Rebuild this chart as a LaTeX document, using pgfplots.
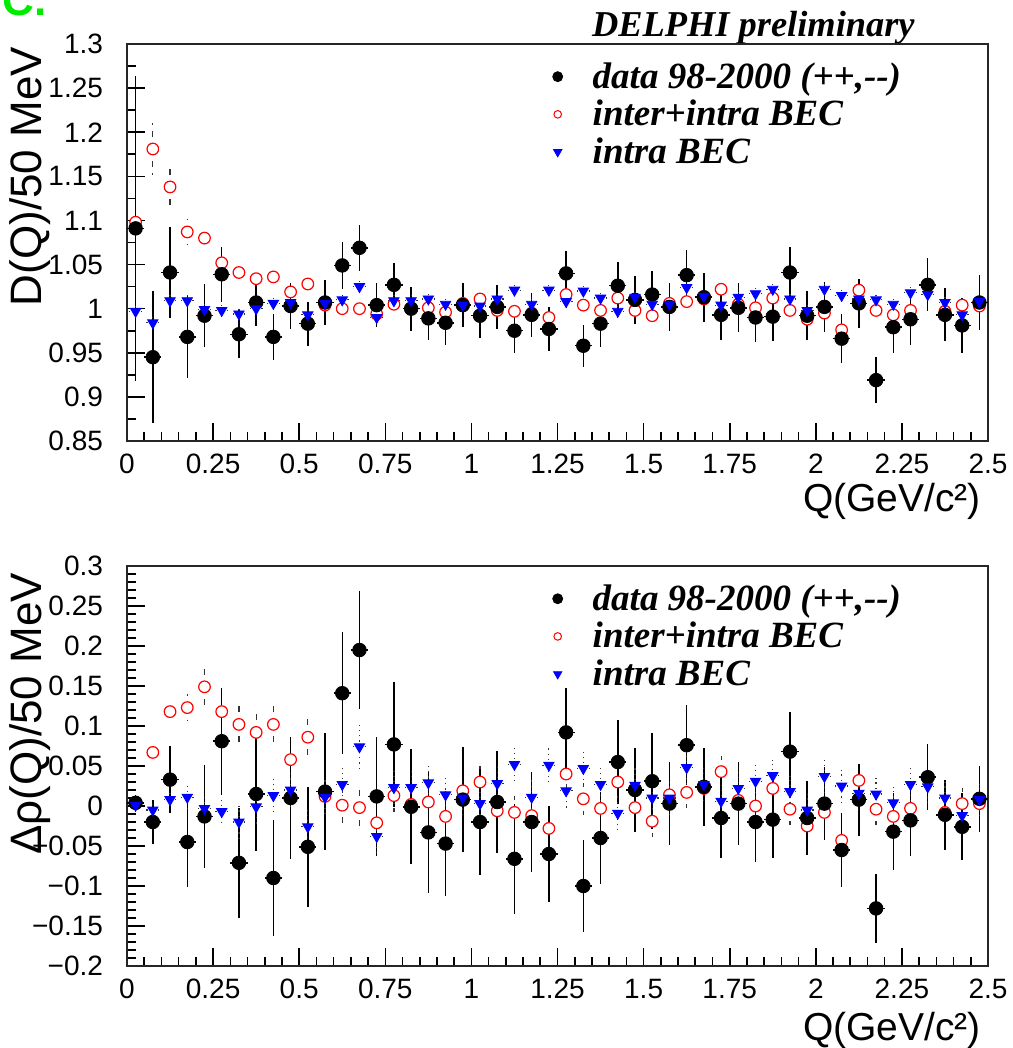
\documentclass[border=0pt]{standalone}
\usepackage{fontspec}
\usepackage{pgfplots}
\usepackage{pgfplotstable}
\pgfplotsset{compat=1.18}
\newfontfamily\rootfont{Liberation Sans}
\newfontfamily\timesfont{Liberation Serif}
\definecolor{rootgreen}{RGB}{0,235,0}

% x y e
\pgfplotstableread{
x y e
0.025 1.091 0.173
0.075 0.945 0.075
0.125 1.041 0.052
0.175 0.968 0.047
0.225 0.992 0.036
0.275 1.039 0.031
0.325 0.971 0.027
0.375 1.007 0.027
0.425 0.968 0.026
0.475 1.003 0.026
0.525 0.983 0.025
0.575 1.007 0.025
0.625 1.049 0.027
0.675 1.069 0.026
0.725 1.004 0.025
0.775 1.027 0.025
0.825 1.000 0.025
0.875 0.989 0.025
0.925 0.984 0.025
0.975 1.004 0.025
1.025 0.992 0.025
1.075 1.002 0.025
1.125 0.975 0.025
1.175 0.993 0.025
1.225 0.977 0.025
1.275 1.040 0.025
1.325 0.958 0.024
1.375 0.983 0.026
1.425 1.026 0.027
1.475 1.010 0.027
1.525 1.016 0.027
1.575 1.002 0.027
1.625 1.038 0.028
1.675 1.013 0.028
1.725 0.993 0.028
1.775 1.001 0.028
1.825 0.990 0.028
1.875 0.991 0.028
1.925 1.041 0.029
1.975 0.992 0.028
2.025 1.002 0.028
2.075 0.966 0.028
2.125 1.006 0.028
2.175 0.919 0.026
2.225 0.979 0.029
2.275 0.988 0.029
2.325 1.027 0.030
2.375 0.993 0.030
2.425 0.981 0.031
2.475 1.007 0.031
}\topdata

\pgfplotstableread{
x y e
0.025 1.098 0.008
0.075 1.181 0.030
0.125 1.138 0.022
0.175 1.087 0.015
0.225 1.080 0.013
0.275 1.052 0.012
0.325 1.041 0.011
0.375 1.034 0.011
0.425 1.036 0.011
0.475 1.019 0.010
0.525 1.028 0.010
0.575 1.004 0.010
0.625 1.000 0.010
0.675 1.000 0.010
0.725 0.994 0.010
0.775 1.005 0.010
0.825 1.000 0.010
0.875 1.001 0.010
0.925 0.996 0.010
0.975 1.006 0.010
1.025 1.011 0.010
1.075 0.998 0.010
1.125 0.997 0.010
1.175 0.995 0.010
1.225 0.990 0.010
1.275 1.016 0.010
1.325 1.004 0.010
1.375 0.998 0.010
1.425 1.012 0.010
1.475 0.998 0.010
1.525 0.992 0.010
1.575 1.006 0.010
1.625 1.008 0.010
1.675 1.011 0.010
1.725 1.022 0.010
1.775 1.005 0.010
1.825 1.001 0.010
1.875 1.012 0.010
1.925 0.998 0.010
1.975 0.988 0.010
2.025 0.995 0.010
2.075 0.976 0.010
2.125 1.021 0.010
2.175 0.998 0.010
2.225 0.993 0.010
2.275 0.998 0.010
2.325 1.027 0.010
2.375 0.997 0.010
2.425 1.004 0.010
2.475 1.003 0.010
}\topinter

\pgfplotstableread{
x y e
0.025 0.997 0.006
0.075 0.984 0.006
0.125 1.009 0.006
0.175 1.009 0.006
0.225 0.999 0.006
0.275 0.998 0.006
0.325 0.994 0.006
0.375 1.000 0.006
0.425 1.006 0.006
0.475 1.007 0.006
0.525 0.993 0.006
0.575 1.006 0.006
0.625 1.010 0.006
0.675 1.025 0.006
0.725 0.990 0.006
0.775 1.009 0.006
0.825 1.009 0.006
0.875 1.011 0.006
0.925 1.005 0.006
0.975 1.004 0.006
1.025 1.003 0.006
1.075 1.011 0.006
1.125 1.021 0.006
1.175 1.005 0.006
1.225 1.021 0.006
1.275 1.008 0.006
1.325 1.020 0.006
1.375 1.012 0.006
1.425 0.997 0.006
1.475 1.013 0.006
1.525 1.005 0.006
1.575 1.005 0.006
1.625 1.024 0.006
1.675 1.014 0.006
1.725 1.004 0.006
1.775 1.013 0.006
1.825 1.017 0.006
1.875 1.022 0.006
1.925 1.011 0.006
1.975 0.998 0.006
2.025 1.022 0.006
2.075 1.015 0.006
2.125 1.011 0.006
2.175 1.010 0.006
2.225 1.005 0.006
2.275 1.018 0.006
2.325 1.016 0.006
2.375 1.007 0.006
2.425 0.993 0.006
2.475 1.008 0.006
}\topintra

\pgfplotstableread{
x y e
0.025 0.004 0.010
0.075 -0.020 0.028
0.125 0.033 0.042
0.175 -0.045 0.056
0.225 -0.013 0.064
0.275 0.081 0.067
0.325 -0.071 0.069
0.375 0.015 0.071
0.425 -0.090 0.072
0.475 0.010 0.076
0.525 -0.051 0.075
0.575 0.018 0.073
0.625 0.141 0.076
0.675 0.195 0.074
0.725 0.012 0.074
0.775 0.077 0.078
0.825 -0.001 0.072
0.875 -0.033 0.076
0.925 -0.047 0.066
0.975 0.008 0.066
1.025 -0.020 0.066
1.075 0.005 0.064
1.125 -0.066 0.069
1.175 -0.020 0.062
1.225 -0.060 0.060
1.275 0.092 0.055
1.325 -0.100 0.058
1.375 -0.040 0.057
1.425 0.055 0.053
1.475 0.020 0.053
1.525 0.031 0.060
1.575 0.003 0.052
1.625 0.076 0.050
1.675 0.024 0.049
1.725 -0.015 0.050
1.775 0.003 0.052
1.825 -0.020 0.050
1.875 -0.017 0.048
1.925 0.068 0.049
1.975 -0.015 0.046
2.025 0.003 0.046
2.075 -0.055 0.046
2.125 0.008 0.045
2.175 -0.128 0.043
2.225 -0.032 0.048
2.275 -0.018 0.045
2.325 0.036 0.041
2.375 -0.011 0.044
2.425 -0.026 0.042
2.475 0.009 0.041
}\botdata

\pgfplotstableread{
x y e
0.025 0.003 0.005
0.075 0.067 0.010
0.125 0.118 0.015
0.175 0.123 0.017
0.225 0.149 0.025
0.275 0.118 0.025
0.325 0.102 0.029
0.375 0.092 0.030
0.425 0.102 0.030
0.475 0.058 0.030
0.525 0.086 0.030
0.575 0.012 0.030
0.625 0.001 0.030
0.675 -0.002 0.030
0.725 -0.021 0.020
0.775 0.013 0.020
0.825 0.002 0.020
0.875 0.005 0.020
0.925 -0.013 0.020
0.975 0.019 0.020
1.025 0.030 0.020
1.075 -0.006 0.020
1.125 -0.008 0.020
1.175 -0.012 0.020
1.225 -0.028 0.020
1.275 0.040 0.020
1.325 0.009 0.020
1.375 -0.003 0.020
1.425 0.030 0.020
1.475 -0.002 0.020
1.525 -0.019 0.020
1.575 0.014 0.020
1.625 0.017 0.020
1.675 0.022 0.020
1.725 0.043 0.020
1.775 0.007 0.020
1.825 0.000 0.020
1.875 0.022 0.020
1.925 -0.004 0.020
1.975 -0.025 0.020
2.025 -0.008 0.020
2.075 -0.043 0.020
2.125 0.032 0.020
2.175 -0.004 0.020
2.225 -0.013 0.020
2.275 -0.003 0.020
2.325 0.035 0.020
2.375 -0.008 0.020
2.425 0.003 0.020
2.475 0.003 0.020
}\botinter

\pgfplotstableread{
x y e
0.025 0.001 0.008
0.075 -0.005 0.010
0.125 0.008 0.012
0.175 0.011 0.014
0.225 -0.003 0.016
0.275 -0.007 0.018
0.325 -0.020 0.020
0.375 -0.001 0.022
0.425 0.013 0.022
0.475 0.020 0.024
0.525 -0.026 0.024
0.575 0.011 0.025
0.625 0.027 0.025
0.675 0.074 0.027
0.725 -0.038 0.025
0.775 0.023 0.024
0.825 0.023 0.022
0.875 0.029 0.022
0.925 0.014 0.022
0.975 0.010 0.022
1.025 0.003 0.022
1.075 0.028 0.022
1.125 0.052 0.022
1.175 0.011 0.022
1.225 0.051 0.022
1.275 0.019 0.022
1.325 0.047 0.022
1.375 0.027 0.022
1.425 -0.009 0.022
1.475 0.026 0.022
1.525 0.010 0.020
1.575 0.010 0.020
1.625 0.048 0.020
1.675 0.027 0.020
1.725 0.006 0.020
1.775 0.022 0.020
1.825 0.031 0.020
1.875 0.038 0.020
1.925 0.018 0.020
1.975 -0.005 0.020
2.025 0.037 0.020
2.075 0.025 0.020
2.125 0.016 0.020
2.175 0.015 0.020
2.225 0.004 0.020
2.275 0.027 0.020
2.325 0.024 0.020
2.375 0.010 0.020
2.425 -0.012 0.020
2.475 0.008 0.020
}\botintra

\pgfplotsset{
  delphi/.style={
    scale only axis, width=430.5pt,
    xmin=0, xmax=2.5,
    xtick={0,0.25,0.5,0.75,1,1.25,1.5,1.75,2,2.25,2.5},
    xticklabels={0,0.25,0.5,0.75,1,1.25,1.5,1.75,2,2.25,2.5},
    minor x tick num=4,
    tick align=inside, tick pos=left,
    major tick length=9pt, minor tick length=4.5pt,
    every tick/.style={black, line width=0.8pt},
    axis line style={line width=1pt, black!85},
    ticklabel style={font=\rootfont\fontsize{14}{16}\selectfont},
    yticklabel style={xshift=-8.5pt},
    xticklabel style={yshift=-3pt},
    legend style={draw=none, fill=none,
      font=\timesfont\bfseries\itshape\fontsize{18.5}{20}\selectfont,
      at={(axis description cs:0.487,0.975)}, anchor=north west,
      row sep=0.5pt, column sep=13pt},
    legend cell align=left,
    ylabel style={font=\rootfont\fontsize{22}{24}\selectfont, anchor=east, rotate=0},
    xlabel style={font=\rootfont\fontsize{19.5}{22}\selectfont, anchor=east},
  },
  pdata/.style={forget plot, only marks, mark=*, mark size=3.4pt, black,
    error bars/.cd, x dir=both, x fixed=0.025, y dir=both, y explicit,
    error mark=none, error bar style={line width=0.75pt, black}},
  pinter/.style={forget plot, only marks, mark=*, mark size=2.9pt, red, mark options={line width=0.6pt, fill=white, draw=red},
    error bars/.cd, x dir=both, x fixed=0.025, y dir=both, y explicit,
    error mark=none, error bar style={line width=0.6pt, black!80, dashed}},
  pintra/.style={forget plot, only marks, mark=triangle*, mark size=3pt, blue, mark options={rotate=180},
    error bars/.cd, x dir=both, x fixed=0.025, y dir=both, y explicit,
    error mark=none, error bar style={line width=0.6pt, black!80, dotted}},
  legdata/.style={only marks, mark=*, mark size=2.5pt, black},
  leginter/.style={only marks, mark=o, mark size=1.9pt, red, mark options={line width=0.5pt}},
  legintra/.style={only marks, mark=triangle*, mark size=2.4pt, blue, mark options={rotate=180}},
}

\begin{document}
\begin{tikzpicture}
\useasboundingbox (0pt,0pt) rectangle (506pt,-524pt);
\clip (0pt,0pt) rectangle (506pt,-524pt);

\node[anchor=base west, text=rootgreen, font=\rootfont\bfseries\fontsize{22}{24}\selectfont, inner sep=0pt] at (1pt,-8pt) {C.};
\node[anchor=base east, font=\timesfont\bfseries\itshape\fontsize{18.2}{20}\selectfont, inner sep=0pt] at (457.5pt,-18.5pt) {DELPHI preliminary};

\begin{axis}[delphi, at={(63.5pt,-220.5pt)}, anchor=south west, height=198.5pt,
  ymin=0.85, ymax=1.3,
  ytick={0.85,0.9,0.95,1,1.05,1.1,1.15,1.2,1.25,1.3},
  yticklabels={0.85,0.9,0.95,1,1.05,1.1,1.15,1.2,1.25,1.3},
  minor y tick num=1,
  ylabel={D(Q)/50 MeV},
  ylabel style={at={(axis description cs:-0.113,1.01)}, rotate=0},
  xlabel={Q(GeV/c²)},
  xlabel style={at={(axis description cs:1.0,-0.153)}},
]
\addlegendimage{legdata}
\addlegendentry{data 98-2000 (++,--)}
\addlegendimage{leginter}
\addlegendentry{inter+intra BEC}
\addlegendimage{legintra}
\addlegendentry{intra BEC}
\addplot[pinter] table[x=x, y=y, y error=e] {\topinter};
\addplot[pdata] table[x=x, y=y, y error=e] {\topdata};
\addplot[pintra] table[x=x, y=y, y error=e] {\topintra};
\end{axis}

\begin{axis}[delphi, at={(63.5pt,-483pt)}, anchor=south west, height=200pt,
  ymin=-0.2, ymax=0.3,
  ytick={-0.2,-0.15,-0.1,-0.05,0,0.05,0.1,0.15,0.2,0.25,0.3},
  yticklabels={−0.2,−0.15,−0.1,−0.05,0,0.05,0.1,0.15,0.2,0.25,0.3},
  minor y tick num=4,
  ylabel={Δρ(Q)/50 MeV},
  ylabel style={at={(axis description cs:-0.113,1.0)}},
  xlabel={Q(GeV/c²)},
  xlabel style={at={(axis description cs:1.0,-0.16)}},
]
\addlegendimage{legdata}
\addlegendentry{data 98-2000 (++,--)}
\addlegendimage{leginter}
\addlegendentry{inter+intra BEC}
\addlegendimage{legintra}
\addlegendentry{intra BEC}
\addplot[pinter] table[x=x, y=y, y error=e] {\botinter};
\addplot[pdata] table[x=x, y=y, y error=e] {\botdata};
\addplot[pintra] table[x=x, y=y, y error=e] {\botintra};
\end{axis}
\end{tikzpicture}
\end{document}
